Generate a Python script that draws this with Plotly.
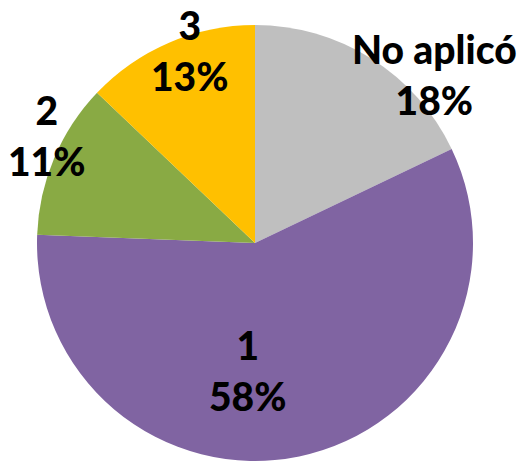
import plotly.graph_objects as go

labels = ["No aplicó", "1", "2", "3"]
values = [17.9, 57.7, 11.5, 12.9]
pct_text = ["18%", "58%", "11%", "13%"]
colors = ["#BFBFBF", "#8064A2", "#89AA44", "#FFC000"]

# label text block centres (pixels) - positions of the data labels
label_pos = {
    "No aplicó": (434, 75),
    "1": (248, 370),
    "2": (47, 136),
    "3": (190, 51),
}

W, H = 522, 463
fig = go.Figure()
fig.add_trace(go.Pie(
    labels=labels, values=values, sort=False, direction="clockwise", rotation=0,
    marker=dict(colors=colors, line=dict(width=0)),
    textinfo="none", hoverinfo="label+percent", showlegend=False,
    domain=dict(x=[37 / W, 473 / W], y=[2 / H, 1 - 25 / H]),
))

for lab, p in zip(labels, pct_text):
    px, py = label_pos[lab]
    fig.add_annotation(
        x=px / W, y=1 - py / H, xref="paper", yref="paper",
        text=f"{lab}<br>{p}",
        showarrow=False, xanchor="center", yanchor="middle",
        font=dict(family="Lato", size=39, color="black", weight=900),
    )

fig.update_layout(
    width=W, height=H, margin=dict(l=0, r=0, t=0, b=0),
    paper_bgcolor="white", plot_bgcolor="white",
)
fig.write_html("out.html")
